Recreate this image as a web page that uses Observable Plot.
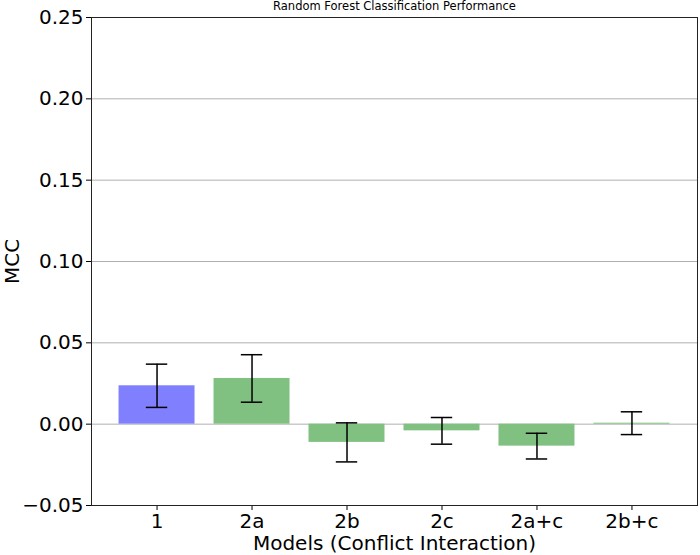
<!DOCTYPE html>
<html>
<head>
<meta charset="utf-8">
<script src="https://cdn.jsdelivr.net/npm/d3@7"></script>
<script src="https://cdn.jsdelivr.net/npm/@observablehq/plot@0.6"></script>
<style>
  html, body { margin: 0; padding: 0; background: white; }
  svg { display: block; }
</style>
</head>
<body>
<div id="chart"></div>
<script>
const models = ["1", "2a", "2b", "2c", "2a+c", "2b+c"];
const mcc = [0.0236, 0.0281, -0.0112, -0.0041, -0.0135, 0.0006];
const err = [0.0133, 0.0146, 0.0120, 0.0082, 0.0079, 0.0070];
const barColors = ["#8080ff", "#80c080", "#80c080", "#80c080", "#80c080", "#80c080"];
const yTicks = [-0.05, 0.00, 0.05, 0.10, 0.15, 0.20, 0.25];
const title = "Random Forest Classification Performance";
const xLabel = "Models (Conflict Interaction)";
const yLabel = "MCC";

const rows = models.map((m, i) => ({model: m, mcc: mcc[i], err: err[i], color: barColors[i]}));

const chart = Plot.plot({
  width: 700,
  height: 555,
  marginLeft: 91,
  marginRight: 3,
  marginTop: 17,
  marginBottom: 50,
  style: {fontFamily: "DejaVu Sans", fontSize: "20px", color: "black", background: "white"},
  x: {domain: models, paddingInner: 0.2, paddingOuter: 0.29, round: false, label: null},
  y: {domain: [-0.05, 0.25], label: null},
  color: {type: "identity"},
  marks: [
    Plot.gridY(yTicks, {stroke: "#b0b0b0", strokeOpacity: 1, strokeWidth: 1}),
    Plot.barY(rows, {x: "model", y: "mcc", fill: "color"}),
    Plot.ruleX(rows, {x: "model", y1: d => d.mcc - d.err, y2: d => d.mcc + d.err, stroke: "black", strokeWidth: 1.5}),
    Plot.tickY(rows, {x: "model", y: d => d.mcc + d.err, stroke: "black", strokeWidth: 1.5, insetLeft: 27.3, insetRight: 27.3}),
    Plot.tickY(rows, {x: "model", y: d => d.mcc - d.err, stroke: "black", strokeWidth: 1.5, insetLeft: 27.3, insetRight: 27.3}),
    Plot.axisY(yTicks, {tickSize: 5, tickPadding: 3, tickFormat: d3.format(".2f"), fontSize: 20, label: null}),
    Plot.axisX({tickSize: 5, tickPadding: 3.5, fontSize: 20, label: null}),
    Plot.frame({stroke: "#222", strokeWidth: 1}),
    Plot.text([title], {text: d => d, frameAnchor: "top", dy: -8, fontSize: 11.5, lineAnchor: "bottom"}),
    Plot.text([xLabel], {text: d => d, frameAnchor: "bottom", dy: 38, fontSize: 20, lineAnchor: "middle"}),
    Plot.text([yLabel], {text: d => d, frameAnchor: "left", dx: -79, rotate: -90, fontSize: 20, lineAnchor: "middle", textAnchor: "middle"})
  ]
});
document.getElementById("chart").appendChild(chart);
</script>
</body>
</html>
